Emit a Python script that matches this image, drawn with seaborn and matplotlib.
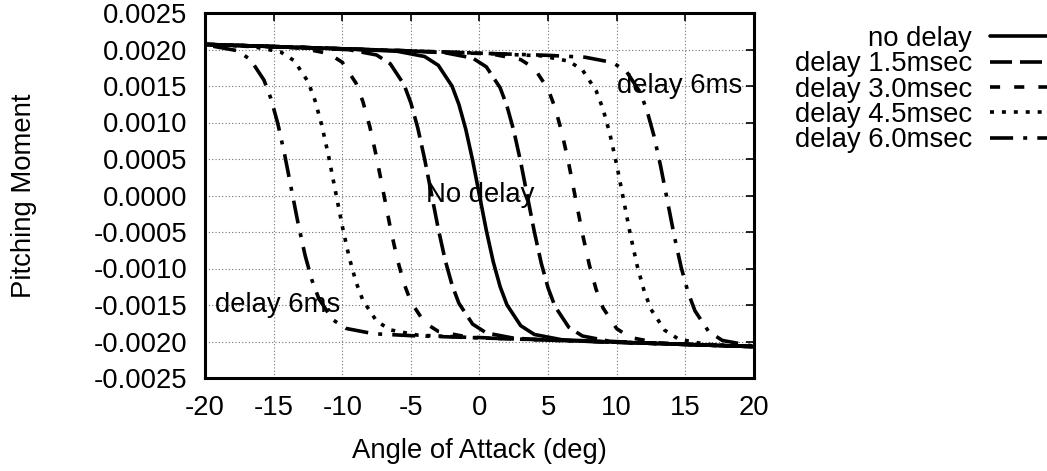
import pandas as pd
import matplotlib
matplotlib.use("Agg")
import matplotlib.pyplot as plt
import seaborn as sns
from matplotlib.ticker import MultipleLocator, FormatStrFormatter

OUTPUT_FILE = "out.png"

LABELS = ["no delay", "delay 1.5msec", "delay 3.0msec", "delay 4.5msec", "delay 6.0msec"]
SCALE = 1e-3  # moment values below are read in units of 1e-3

# no delay (single curve, both sweeps coincide)
alpha_0 = [-20, -15, -10, -6, -4, -3, -2, -1.5, -1, -0.5, 0, 0.5, 1, 1.5, 2, 3, 4, 6, 10, 15, 20]
cm_0 = [2.07, 2.04, 2.01, 1.976, 1.904, 1.783, 1.498, 1.247, 0.907, 0.481, 0.0,
        -0.481, -0.907, -1.247, -1.498, -1.783, -1.904, -1.976, -2.01, -2.04, -2.07]

# delay 1.5 msec: increasing sweep, then decreasing sweep
alpha_15_up = [-20, -15, -10, -5, -2.5, -0.5, 0.5, 1.5, 2, 2.5, 3, 3.5, 4, 4.5, 5, 5.5, 6.5, 7.5, 9.5, 13, 17, 20]
cm_15_up = [2.07, 2.04, 2.01, 1.98, 1.955, 1.883, 1.762, 1.477, 1.226, 0.886, 0.460, -0.021,
            -0.502, -0.928, -1.268, -1.519, -1.804, -1.925, -1.997, -2.028, -2.052, -2.07]
alpha_15_dn = [20, 17, 13, 10, 5, 2.5, 0.5, -0.5, -1.5, -2, -2.5, -3, -3.5, -4, -4.5, -5, -5.5,
               -6.5, -7.5, -9.5, -13, -17, -20]
cm_15_dn = [-2.07, -2.052, -2.028, -2.01, -1.98, -1.955, -1.883, -1.762, -1.477, -1.226, -0.886,
            -0.460, 0.021, 0.502, 0.928, 1.268, 1.519, 1.804, 1.925, 1.997, 2.028, 2.052, 2.07]

# delay 3.0 msec
alpha_30_up = [-20, -15, -10, -5, 0, 1, 3, 4, 5, 5.5, 6, 6.5, 7, 7.5, 8, 8.5, 9, 10, 11, 13, 16, 20]
cm_30_up = [2.07, 2.04, 2.01, 1.98, 1.946, 1.934, 1.862, 1.741, 1.456, 1.205, 0.865, 0.439, -0.042,
            -0.523, -0.949, -1.289, -1.540, -1.825, -1.946, -2.018, -2.046, -2.07]
alpha_30_dn = [20, 16, 13, 10, 5, 0, -1, -3, -4, -5, -5.5, -6, -6.5, -7, -7.5, -8, -8.5, -9, -10,
               -11, -13, -16, -20]
cm_30_dn = [-2.07, -2.046, -2.028, -2.01, -1.98, -1.946, -1.934, -1.862, -1.741, -1.456, -1.205,
            -0.865, -0.439, 0.042, 0.523, 0.949, 1.289, 1.540, 1.825, 1.946, 2.018, 2.046, 2.07]

# delay 4.5 msec
alpha_45_up = [-20, -15, -10, -5, 0, 4.5, 6.5, 7.5, 8.5, 9, 9.5, 10, 10.5, 11, 11.5, 12, 12.5,
               13.5, 14.5, 16.5, 20]
cm_45_up = [2.07, 2.04, 2.01, 1.98, 1.95, 1.913, 1.841, 1.720, 1.435, 1.184, 0.844, 0.418, -0.063,
            -0.544, -0.970, -1.310, -1.561, -1.846, -1.967, -2.039, -2.07]
alpha_45_dn = [20, 15, 10, 5, 0, -4.5, -6.5, -7.5, -8.5, -9, -9.5, -10, -10.5, -11, -11.5, -12,
               -12.5, -13.5, -14.5, -16.5, -20]
cm_45_dn = [-2.07, -2.04, -2.01, -1.98, -1.95, -1.913, -1.841, -1.720, -1.435, -1.184, -0.844,
            -0.418, 0.063, 0.544, 0.970, 1.310, 1.561, 1.846, 1.967, 2.039, 2.07]

# delay 6.0 msec
alpha_60_up = [-20, -15, -10, -5, 0, 5, 7.7, 9.7, 10.7, 11.7, 12.2, 12.7, 13.2, 13.7, 14.2, 14.7,
               15.2, 15.7, 16.7, 17.7, 20]
cm_60_up = [2.07, 2.04, 2.01, 1.98, 1.95, 1.92, 1.894, 1.822, 1.701, 1.416, 1.165, 0.825, 0.399,
            -0.082, -0.563, -0.989, -1.329, -1.580, -1.865, -1.986, -2.065]
alpha_60_dn = [20, 15, 10, 5, 0, -5, -7.7, -9.7, -10.7, -11.7, -12.2, -12.7, -13.2, -13.7, -14.2,
               -14.7, -15.2, -15.7, -16.7, -17.7, -20]
cm_60_dn = [-2.07, -2.04, -2.01, -1.98, -1.95, -1.92, -1.894, -1.822, -1.701, -1.416, -1.165,
            -0.825, -0.399, 0.082, 0.563, 0.989, 1.329, 1.580, 1.865, 1.986, 2.065]

X_TICKS = [-20, -15, -10, -5, 0, 5, 10, 15, 20]

FS = 19.8
LW = 2.6
DASHES = {
    "no delay": "",
    "delay 1.5msec": (6.1, 2.2),
    "delay 3.0msec": (2.8, 3.9),
    "delay 4.5msec": (1.1, 2.2),
    "delay 6.0msec": (6.4, 2.8, 1.1, 2.8),
}


def build_frame():
    curves = [
        (alpha_0, cm_0),
        (alpha_15_up + alpha_15_dn, cm_15_up + cm_15_dn),
        (alpha_30_up + alpha_30_dn, cm_30_up + cm_30_dn),
        (alpha_45_up + alpha_45_dn, cm_45_up + cm_45_dn),
        (alpha_60_up + alpha_60_dn, cm_60_up + cm_60_dn),
    ]
    rows = []
    for label, (xs, ys) in zip(LABELS, curves):
        for x, y in zip(xs, ys):
            rows.append({"case": label, "alpha": x, "cm": y * SCALE})
    return pd.DataFrame(rows)


sns.set_style("white")
plt.rcParams["font.family"] = ["Liberation Sans", "DejaVu Sans"]
plt.rcParams["axes.unicode_minus"] = False
plt.rcParams["text.color"] = "black"
plt.rcParams["axes.labelcolor"] = "black"

df = build_frame()

fig = plt.figure(figsize=(10.47, 4.71), dpi=100)
ax = fig.add_axes([205 / 1047, 1 - 378 / 471, 549 / 1047, 365 / 471])

sns.lineplot(data=df, x="alpha", y="cm", hue="case", style="case", hue_order=LABELS,
             style_order=LABELS, palette={l: "black" for l in LABELS}, dashes=DASHES,
             sort=False, estimator=None, lw=LW, legend=False, ax=ax)

ax.set_xlim(-20, 20)
ax.set_ylim(-0.0025, 0.0025)
ax.set_xticks(X_TICKS)
ax.yaxis.set_major_locator(MultipleLocator(0.0005))
ax.yaxis.set_major_formatter(FormatStrFormatter("%.4f"))
ax.xaxis.set_major_formatter(FormatStrFormatter("%d"))
ax.tick_params(direction="in", length=5.8, width=1.2, top=True, right=True,
               labelsize=FS, pad=12.5, colors="black")
for sp in ax.spines.values():
    sp.set_linewidth(2.2)
    sp.set_color("black")
ax.grid(True, color="#707070", linestyle=(0, (1, 2)), linewidth=0.8)
ax.set_axisbelow(True)

ax.set_xlabel("Angle of Attack (deg)", fontsize=FS, color="black")
ax.set_ylabel("Pitching Moment", fontsize=FS, color="black")
ax.xaxis.set_label_coords(0.5, -0.165)
ax.yaxis.set_label_coords(-0.306, 0.5)

ax.text(10.0, 0.0015, "delay 6ms", fontsize=FS, ha="left", va="center", color="black")
ax.text(-19.3, -0.0015, "delay 6ms", fontsize=FS, ha="left", va="center", color="black")
ax.text(-3.9, 0.0, "No delay", fontsize=FS, ha="left", va="center", color="black")

leg = ax.legend(ax.lines[:len(LABELS)], LABELS, loc="upper right",
                bbox_to_anchor=(1072.5 / 1047, 1 - 26 / 471), bbox_transform=fig.transFigure,
                frameon=False, markerfirst=False, fontsize=FS, handlelength=3.0,
                handletextpad=0.656, labelspacing=-0.025, borderpad=0, borderaxespad=0)
for t in leg.get_texts():
    t.set_color("black")

fig.savefig(OUTPUT_FILE, dpi=100)
plt.close(fig)
